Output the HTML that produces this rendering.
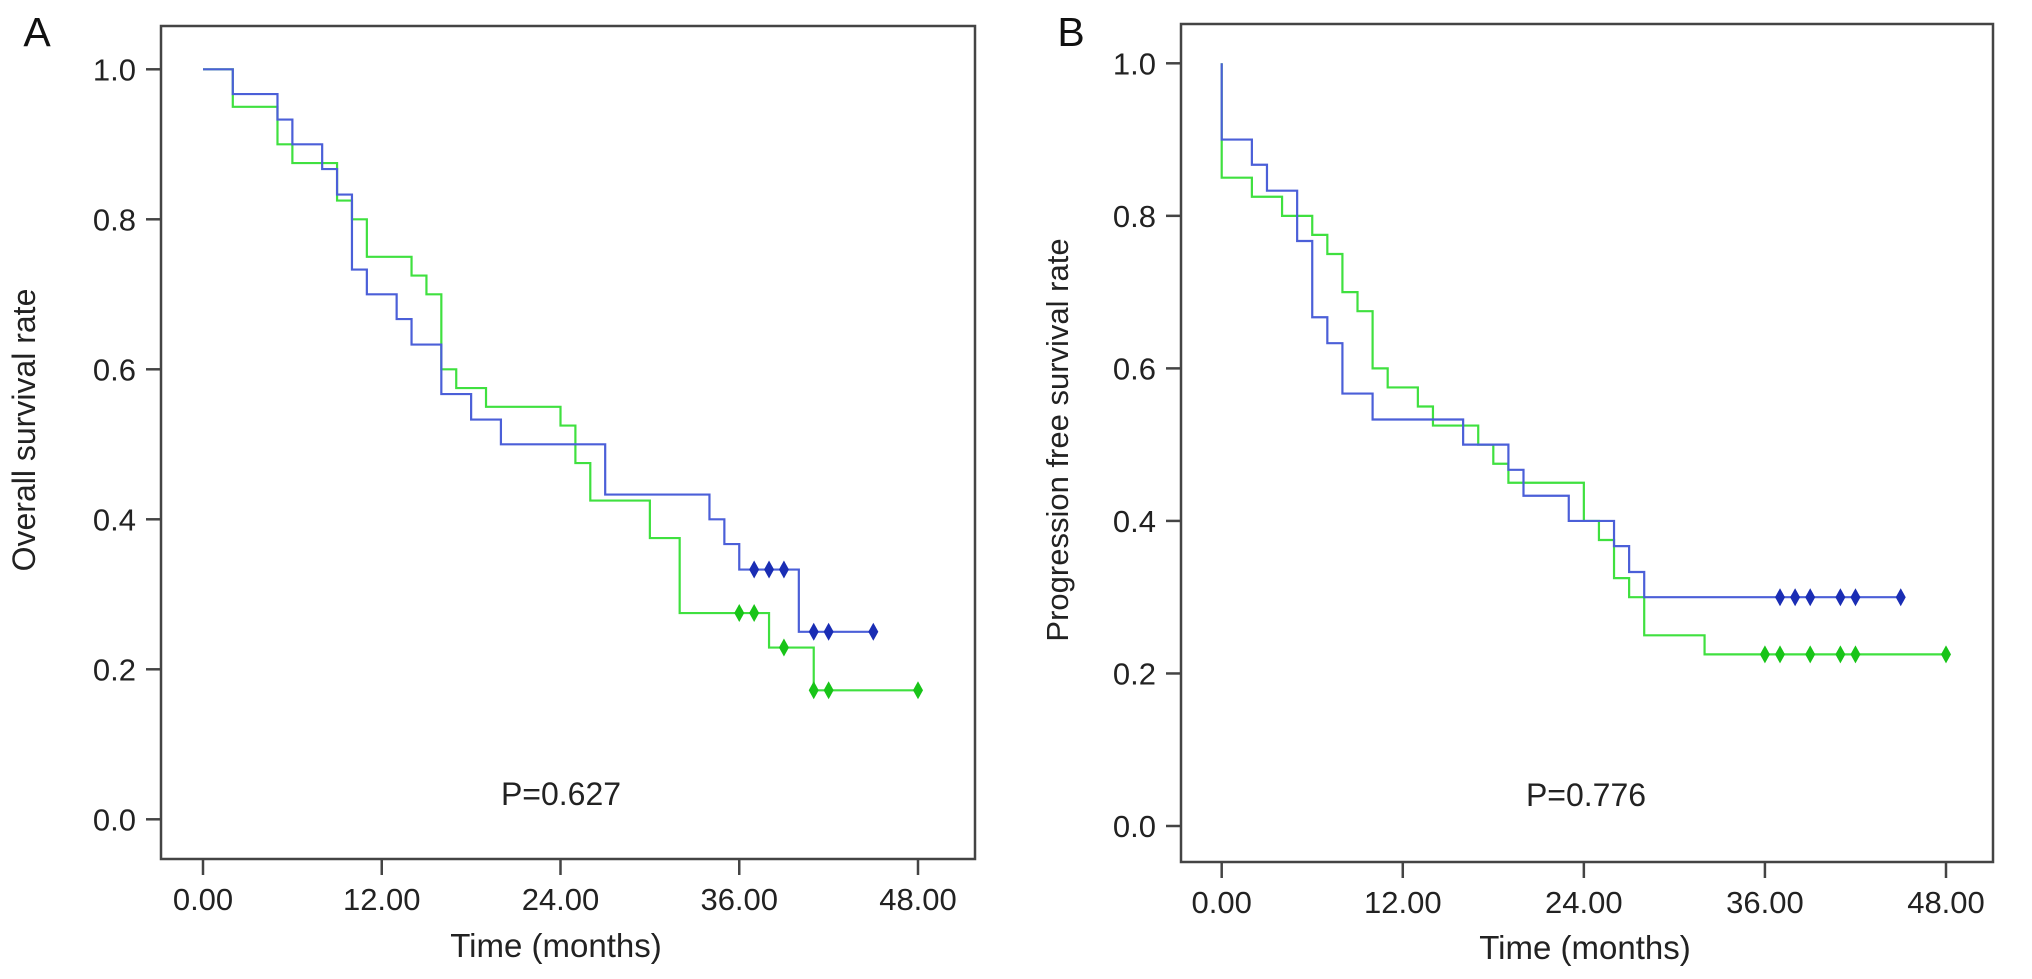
<!DOCTYPE html>
<html><head><meta charset="utf-8"><style>
html,body{margin:0;padding:0;background:#fff;}
svg{display:block;font-family:"Liberation Sans",Arial,sans-serif;}
</style></head><body>
<svg id="fig" width="2032" height="979" viewBox="0 0 2032 979">
<text x="37" y="46" font-size="41" text-anchor="middle" fill="#111">A</text>
<text x="1071" y="46" font-size="41" text-anchor="middle" fill="#111">B</text>
<text transform="translate(35,430) rotate(-90)" font-size="32" text-anchor="middle" fill="#222">Overall survival rate</text>
<text transform="translate(1068,440) rotate(-90)" font-size="31" text-anchor="middle" fill="#222">Progression free survival rate</text>
<text x="556" y="957" font-size="33" text-anchor="middle" fill="#222">Time (months)</text>
<text x="1585" y="959" font-size="33" text-anchor="middle" fill="#222">Time (months)</text>
<text x="561" y="805" font-size="32" text-anchor="middle" fill="#222">P=0.627</text>
<text x="1586" y="806" font-size="32" text-anchor="middle" fill="#222">P=0.776</text>
</svg>
<script>
// Shared axes
var xTicks = [0, 12, 24, 36, 48];
var xTickLabels = ["0.00", "12.00", "24.00", "36.00", "48.00"];
var yTicks = [0, 0.2, 0.4, 0.6, 0.8, 1.0];
var yTickLabels = ["0.0", "0.2", "0.4", "0.6", "0.8", "1.0"];

// Panel A (overall survival): step times and survival values
var aBlueTimes = [0, 2, 5, 6, 8, 9, 10, 11, 13, 14, 16, 18, 20, 27, 34, 35, 36, 40, 45];
var aBlueVals  = [1, 0.967, 0.933, 0.9, 0.867, 0.833, 0.733, 0.7, 0.667, 0.633, 0.567, 0.533, 0.5, 0.433, 0.4, 0.367, 0.333, 0.25, 0.25];
var aBlueCensor = [37, 38, 39, 41, 42, 45];
var aGreenTimes = [0, 2, 5, 6, 9, 10, 11, 14, 15, 16, 17, 19, 24, 25, 26, 30, 32, 38, 41, 48];
var aGreenVals  = [1, 0.95, 0.9, 0.875, 0.825, 0.8, 0.75, 0.725, 0.7, 0.6, 0.575, 0.55, 0.525, 0.475, 0.425, 0.375, 0.275, 0.229, 0.172, 0.172];
var aGreenCensor = [36, 37, 39, 41, 42, 48];

// Panel B (progression free survival)
var bBlueTimes = [0, 2, 3, 5, 6, 7, 8, 10, 16, 19, 20, 23, 26, 27, 28, 45];
var bBlueVals  = [0.9, 0.867, 0.833, 0.767, 0.667, 0.633, 0.567, 0.533, 0.5, 0.467, 0.433, 0.4, 0.367, 0.333, 0.3, 0.3];
var bBlueCensor = [37, 38, 39, 41, 42, 45];
var bGreenTimes = [0, 2, 4, 6, 7, 8, 9, 10, 11, 13, 14, 17, 18, 19, 24, 25, 26, 27, 28, 32, 48];
var bGreenVals  = [0.85, 0.825, 0.8, 0.775, 0.75, 0.7, 0.675, 0.6, 0.575, 0.55, 0.525, 0.5, 0.475, 0.45, 0.4, 0.375, 0.325, 0.3, 0.25, 0.225, 0.225];
var bGreenCensor = [36, 37, 39, 41, 42, 48];

var NS = "http://www.w3.org/2000/svg";
var svg = document.getElementById("fig");
function mk(tag, attrs) {
  var e = document.createElementNS(NS, tag);
  for (var k in attrs) e.setAttribute(k, attrs[k]);
  return e;
}

function drawPanel(p, prefix) {
  function xs(t) { return p.x0 + (t / 48) * (p.x48 - p.x0); }
  function ys(v) { return p.yZero - v * (p.yZero - p.yOne); }
  var g = mk("g", {});
  
  
  svg.appendChild(g);
  var box = mk("rect", {x: p.left, y: p.top, width: p.right - p.left, height: p.bottom - p.top, fill: "none", stroke: "#444", "stroke-width": 2.5});
  
  
  g.appendChild(box);
  for (var i = 0; i < yTicks.length; i++) {
    var y = ys(yTicks[i]);
    var tk = mk("line", {x1: p.left - 15, x2: p.left, y1: y, y2: y, stroke: "#444", "stroke-width": 2.5});
    
    
    g.appendChild(tk);
    var lb = mk("text", {x: p.left - 25, y: y + 11, "font-size": 31, "text-anchor": "end", fill: "#222"});
    lb.textContent = yTickLabels[i];
    
    
    g.appendChild(lb);
  }
  for (var j = 0; j < xTicks.length; j++) {
    var x = xs(xTicks[j]);
    var tx = mk("line", {x1: x, x2: x, y1: p.bottom, y2: p.bottom + 16, stroke: "#444", "stroke-width": 2.5});
    
    
    g.appendChild(tx);
    var xl = mk("text", {x: x, y: p.bottom + 51, "font-size": 31, "text-anchor": "middle", fill: "#222"});
    xl.textContent = xTickLabels[j];
    
    
    g.appendChild(xl);
  }
  function series(times, vals, censor, lineColor, markColor, name) {
    var d = "M" + xs(times[0]) + "," + ys(1);
    var prev = 1;
    for (var i = 0; i < times.length; i++) {
      d += " L" + xs(times[i]) + "," + ys(prev);
      d += " L" + xs(times[i]) + "," + ys(vals[i]);
      prev = vals[i];
    }
    var path = mk("path", {d: d, fill: "none", stroke: lineColor, "stroke-width": 2.2});
    
    
    g.appendChild(path);
    for (var c = 0; c < censor.length; c++) {
      var t = censor[c];
      var v = vals[0];
      for (var k = 0; k < times.length; k++) { if (times[k] <= t) v = vals[k]; }
      var cx = xs(t), cy = ys(v);
      var m = mk("polygon", {points: cx + "," + (cy - 9) + " " + (cx + 5) + "," + cy + " " + cx + "," + (cy + 9) + " " + (cx - 5) + "," + cy, fill: markColor});
      
      
      g.appendChild(m);
    }
  }
  series(p.gT, p.gV, p.gC, "#3fe03f", "#18c418", prefix + "-green");
  series(p.bT, p.bV, p.bC, "#4b5fd8", "#1a2db4", prefix + "-blue");
}

drawPanel({left: 161, right: 975, top: 26, bottom: 859, x0: 203, x48: 918, yOne: 69.3, yZero: 819.3,
  bT: aBlueTimes, bV: aBlueVals, bC: aBlueCensor, gT: aGreenTimes, gV: aGreenVals, gC: aGreenCensor}, "panel-a");
drawPanel({left: 1181, right: 1993, top: 24, bottom: 862, x0: 1221.7, x48: 1946, yOne: 63.3, yZero: 826,
  bT: bBlueTimes, bV: bBlueVals, bC: bBlueCensor, gT: bGreenTimes, gV: bGreenVals, gC: bGreenCensor}, "panel-b");
</script>
</body></html>
